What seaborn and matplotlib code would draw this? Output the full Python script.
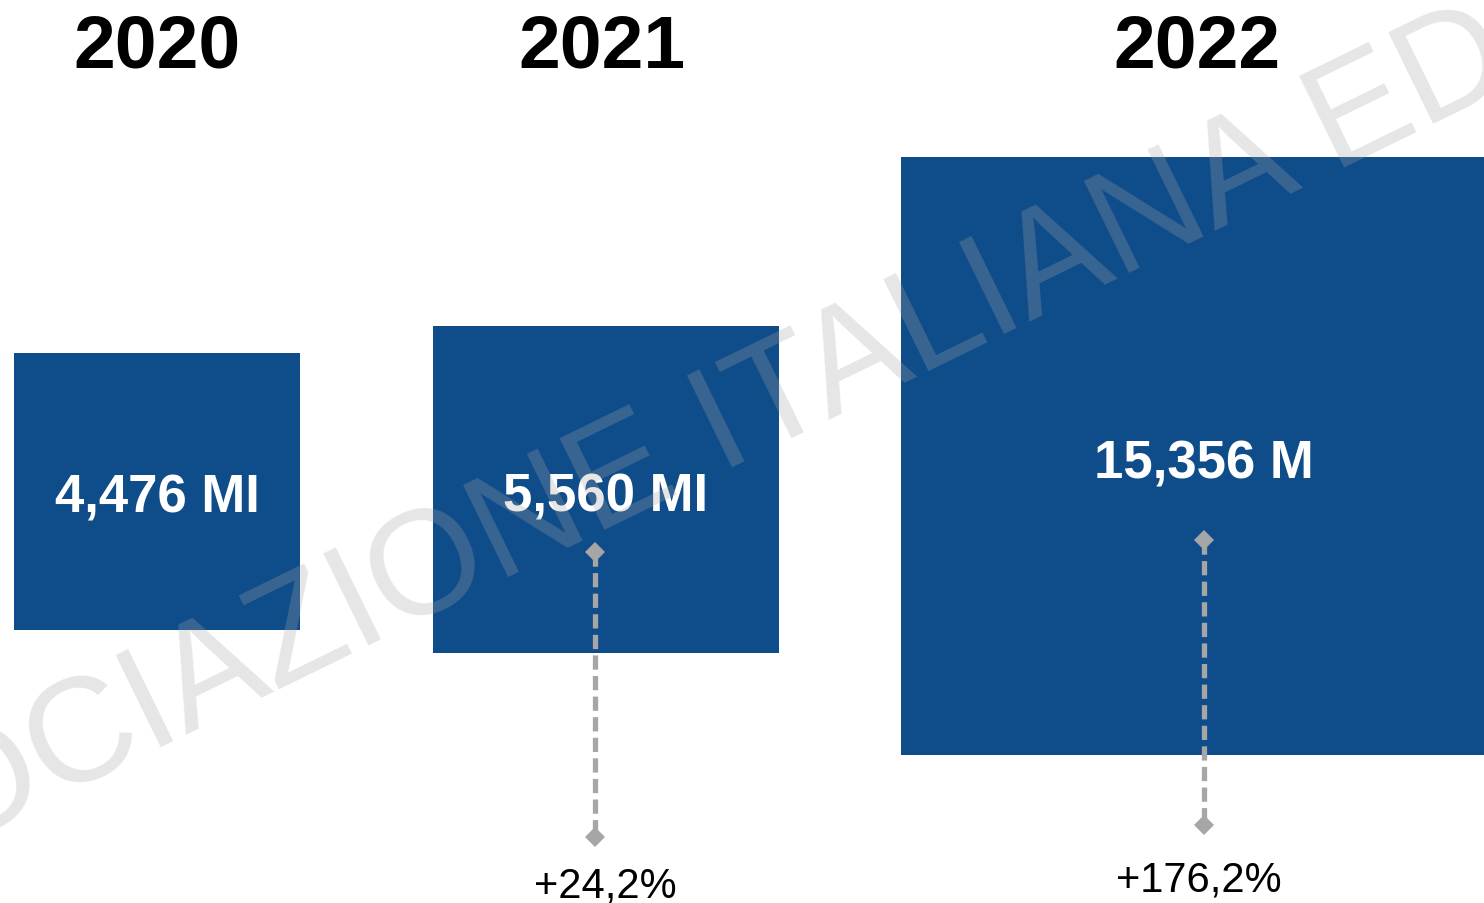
import matplotlib
matplotlib.use("Agg")
import matplotlib.pyplot as plt
import seaborn as sns

# data
years = ["2020", "2021", "2022"]
value_labels = ["4,476 MI", "5,560 MI", "15,356 M"]
growth_labels = ["", "+24,2%", "+176,2%"]

# layout (pixel space of the 1484x904 canvas, y grows downwards)
box_left = [14, 433, 901]
box_right = [300, 779, 1499]
box_top = [354, 327, 158]
box_bottom = [631, 654, 756]
year_x = [157, 602, 1197]
value_y = [513, 511, 479]
value_x = [157, 606, 1204]
arrow_x = [None, 595, 1204]
arrow_top = [None, 553, 541]
arrow_bottom = [None, 838, 826]
growth_x = [None, 605, 1199]
growth_y = [None, 898, 892]

sns.set_theme(style="white")
plt.rcParams["font.family"] = ["Liberation Sans", "DejaVu Sans"]

BLUE = "#0F4C8A"
GREY = "#A6A6A6"

fig = plt.figure(figsize=(14.84, 9.04), dpi=100)
ax = fig.add_axes([0, 0, 1, 1])
ax.set_xlim(0, 1484)
ax.set_ylim(904, 0)
ax.axis("off")

# boxes
centers = [(l + r) / 2 for l, r in zip(box_left, box_right)]
widths = [r - l for l, r in zip(box_left, box_right)]
heights = [b - t for t, b in zip(box_top, box_bottom)]
ax.bar(centers, heights, width=widths, bottom=box_top, color=BLUE, linewidth=0, zorder=1)

# year titles
for i, yr in enumerate(years):
    ax.text(year_x[i], 67, yr, ha="center", va="baseline", fontsize=54,
            fontweight="bold", color="black", zorder=3)

# values inside boxes
for i, lab in enumerate(value_labels):
    ax.text(value_x[i], value_y[i], lab, ha="center", va="baseline", fontsize=38,
            fontweight="bold", color="white", zorder=3)

# growth arrows + labels
for i in range(1, len(years)):
    sns.lineplot(x=[arrow_x[i], arrow_x[i]], y=[arrow_top[i], arrow_bottom[i]],
                 estimator=None, sort=False, ax=ax, color=GREY, linewidth=3.8,
                 linestyle=(0, (2.7, 1.2)), marker="D", markersize=10,
                 markeredgewidth=0, zorder=2)
    ax.text(growth_x[i], growth_y[i], growth_labels[i], ha="center", va="baseline",
            fontsize=30, color="black", zorder=3)

# watermark
ax.text(-318, 982, "ASSOCIAZIONE ITALIANA EDITORI", rotation=26.1,
        rotation_mode="anchor", ha="left", va="baseline", fontsize=107,
        color=GREY, alpha=0.28, zorder=4, clip_on=False)

fig.savefig("out.png", dpi=100)
